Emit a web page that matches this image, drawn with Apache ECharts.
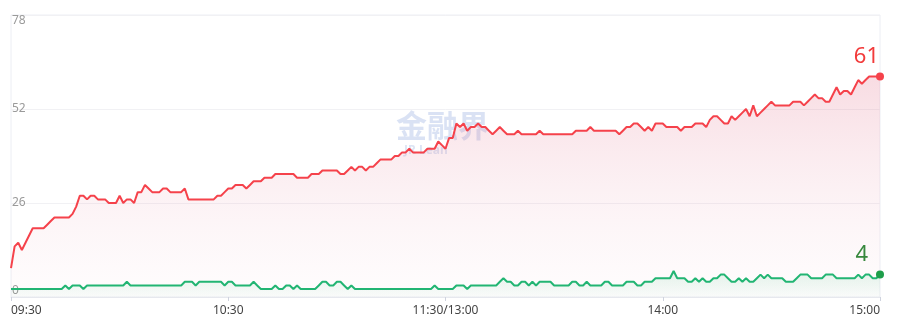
<!DOCTYPE html>
<html>
<head>
<meta charset="utf-8">
<script src="https://cdn.jsdelivr.net/npm/echarts@6/dist/echarts.min.js"></script>
<style>
html,body{margin:0;padding:0;background:#ffffff;}
#chart{width:910px;height:324px;}
</style>
</head>
<body>
<div id="chart"></div>
<script>
// ---- data ----
const tickLabels = ['09:30', '10:30', '11:30/13:00', '14:00', '15:00'];
const yTicks = [0, 26, 52, 78];

const upCounts = [
  8,14,15,13,15,17,19,19,19,19,
  20,21,22,22,22,22,22,23,25,28,
  28,27,28,28,27,27,27,26,26,26,
  28,26,27,27,26,29,29,31,30,29,
  29,29,30,30,29,29,29,29,30,27,
  27,27,27,27,27,27,27,28,28,29,
  30,30,31,31,31,30,31,32,32,32,
  33,33,33,34,34,34,34,34,34,33,
  33,33,33,34,34,34,35,35,35,35,
  35,34,34,35,36,35,36,36,35,36,
  36,37,38,38,38,38,39,39,40,40,
  41,40,40,40,40,41,41,41,43,42,
  41,44,44,48,47,48,46,47,47,48,
  47,47,46,45,46,47,46,45,45,45,
  46,45,45,45,45,45,46,45,45,45,
  45,45,45,45,45,45,46,46,46,46,
  47,46,46,46,46,46,46,46,45,46,
  47,47,48,48,47,46,47,46,48,48,
  48,47,47,47,47,46,47,47,47,48,
  48,48,47,49,50,50,49,48,48,50,
  49,50,51,52,50,53,50,51,52,53,
  54,53,53,53,53,53,54,54,54,53,
  54,55,56,55,55,54,54,56,58,56,
  57,57,56,58,60,59,60,61,61,61,
  61
];

const downCounts = [
  0,0,0,0,0,0,0,0,0,0,
  0,0,0,0,0,1,0,1,1,1,
  0,1,1,1,1,1,1,1,1,1,
  1,1,2,1,1,1,1,1,1,1,
  1,1,1,1,1,1,1,1,2,2,
  2,1,2,2,2,2,2,2,2,1,
  2,2,1,1,1,1,1,2,1,0,
  0,0,0,1,0,0,1,1,0,1,
  0,0,0,0,0,1,2,2,1,1,
  2,2,1,0,1,0,0,0,0,0,
  0,0,0,0,0,0,0,0,0,0,
  0,0,0,0,0,0,0,1,0,0,
  0,0,0,1,1,1,0,1,1,1,
  1,1,1,1,1,2,3,2,2,1,
  1,2,2,1,2,1,2,2,2,2,
  1,1,1,1,1,2,2,1,1,2,
  1,1,1,1,2,2,1,1,1,1,
  2,2,2,1,1,2,2,2,3,3,
  3,3,3,5,3,3,3,2,2,3,
  2,3,2,2,3,3,4,4,3,2,
  2,3,2,3,2,2,3,4,3,4,
  3,3,3,3,2,2,2,3,4,4,
  4,3,3,3,3,4,4,4,3,3,
  3,3,3,3,4,3,4,4,3,3,
  4
];

// trading minutes 09:30-11:30, 13:01-15:00
function pad(n){ return (n < 10 ? '0' : '') + n; }
const times = [];
for (let m = 9*60+30; m <= 11*60+30; m++) times.push(pad(Math.floor(m/60)) + ':' + pad(m%60));
for (let m = 13*60+1; m <= 15*60; m++) times.push(pad(Math.floor(m/60)) + ':' + pad(m%60));

const lastIdx = upCounts.length - 1;
const labelStep = (times.length - 1) / (tickLabels.length - 1);

const chart = echarts.init(document.getElementById('chart'), null, {renderer: 'canvas'});
const font = '"Noto Sans", "Noto Sans CJK SC", sans-serif';

chart.setOption({
  animation: false,
  backgroundColor: '#ffffff',
  textStyle: {fontFamily: font},
  grid: {left: 11, right: 30, top: 15, bottom: 27, show: true, borderColor: '#eceef4', borderWidth: 1, backgroundColor: 'transparent'},
  graphic: [{
    type: 'text', left: 396, top: 110, z: 0, silent: true,
    style: {text: '金融界', font: 'bold 31px "Noto Sans CJK SC"', fill: 'rgba(140,165,220,0.32)'}
  }, {
    type: 'text', left: 404, top: 145, z: 0, silent: true,
    style: {text: 'JR Lean', font: 'bold 12px "Noto Sans"', fill: 'rgba(140,165,220,0.30)'}
  }],
  xAxis: {
    type: 'category',
    data: times,
    boundaryGap: false,
    axisLine: {show: true, lineStyle: {color: '#e6e8ee'}},
    axisTick: {show: true, length: 4, interval: (i) => i % labelStep === 0, lineStyle: {color: '#cfd3de'}},
    axisLabel: {
      interval: (i) => i % labelStep === 0,
      formatter: (v, i) => tickLabels[Math.round(i / labelStep)],
      color: '#444', fontSize: 12, margin: 8,
      alignMinLabel: 'left', alignMaxLabel: 'right'
    },
    splitLine: {show: false}
  },
  yAxis: [{
    type: 'value',
    min: yTicks[0], max: yTicks[yTicks.length - 1], interval: yTicks[1] - yTicks[0],
    axisLine: {show: false}, axisTick: {show: false},
    axisLabel: {
      inside: true, margin: 1, color: '#9a9a9a', fontSize: 12,
      verticalAlignMaxLabel: 'top', verticalAlignMinLabel: 'bottom'
    },
    splitLine: {lineStyle: {color: '#f1f1f4'}}
  }, {
    type: 'value', show: false, min: -2.2, max: 75.8,
    splitLine: {show: false}
  }],
  series: [{
    name: 'up', type: 'line', data: upCounts, yAxisIndex: 0,
    showSymbol: false, symbol: 'none', smooth: false,
    lineStyle: {color: '#f5424b', width: 2},
    areaStyle: {
      origin: 'start',
      color: new echarts.graphic.LinearGradient(0, 0, 0, 1, [
        {offset: 0, color: 'rgba(222,90,120,0.30)'},
        {offset: 1, color: 'rgba(240,190,205,0.06)'}
      ])
    },
    z: 3,
    markPoint: {
      symbol: 'circle', symbolSize: 8,
      itemStyle: {color: '#f5424b'},
      label: {show: true, position: 'top', align: 'right', offset: [-1, 0], color: '#f23b3b', fontSize: 22, fontFamily: font},
      data: [{coord: [lastIdx, upCounts[lastIdx]], value: upCounts[lastIdx]}]
    }
  }, {
    name: 'down', type: 'line', data: downCounts, yAxisIndex: 1,
    showSymbol: false, symbol: 'none', smooth: false,
    lineStyle: {color: '#22b573', width: 2},
    areaStyle: {
      origin: 'start',
      color: new echarts.graphic.LinearGradient(0, 0, 0, 1, [
        {offset: 0, color: 'rgba(40,180,110,0.18)'},
        {offset: 1, color: 'rgba(40,180,110,0.03)'}
      ])
    },
    z: 4,
    markPoint: {
      symbol: 'circle', symbolSize: 8,
      itemStyle: {color: '#1e9e4a'},
      label: {show: true, position: 'top', align: 'right', offset: [-12, 0], color: '#37883d', fontSize: 22, fontFamily: font},
      data: [{coord: [lastIdx, downCounts[lastIdx]], value: downCounts[lastIdx]}]
    }
  }]
});
</script>
</body>
</html>
